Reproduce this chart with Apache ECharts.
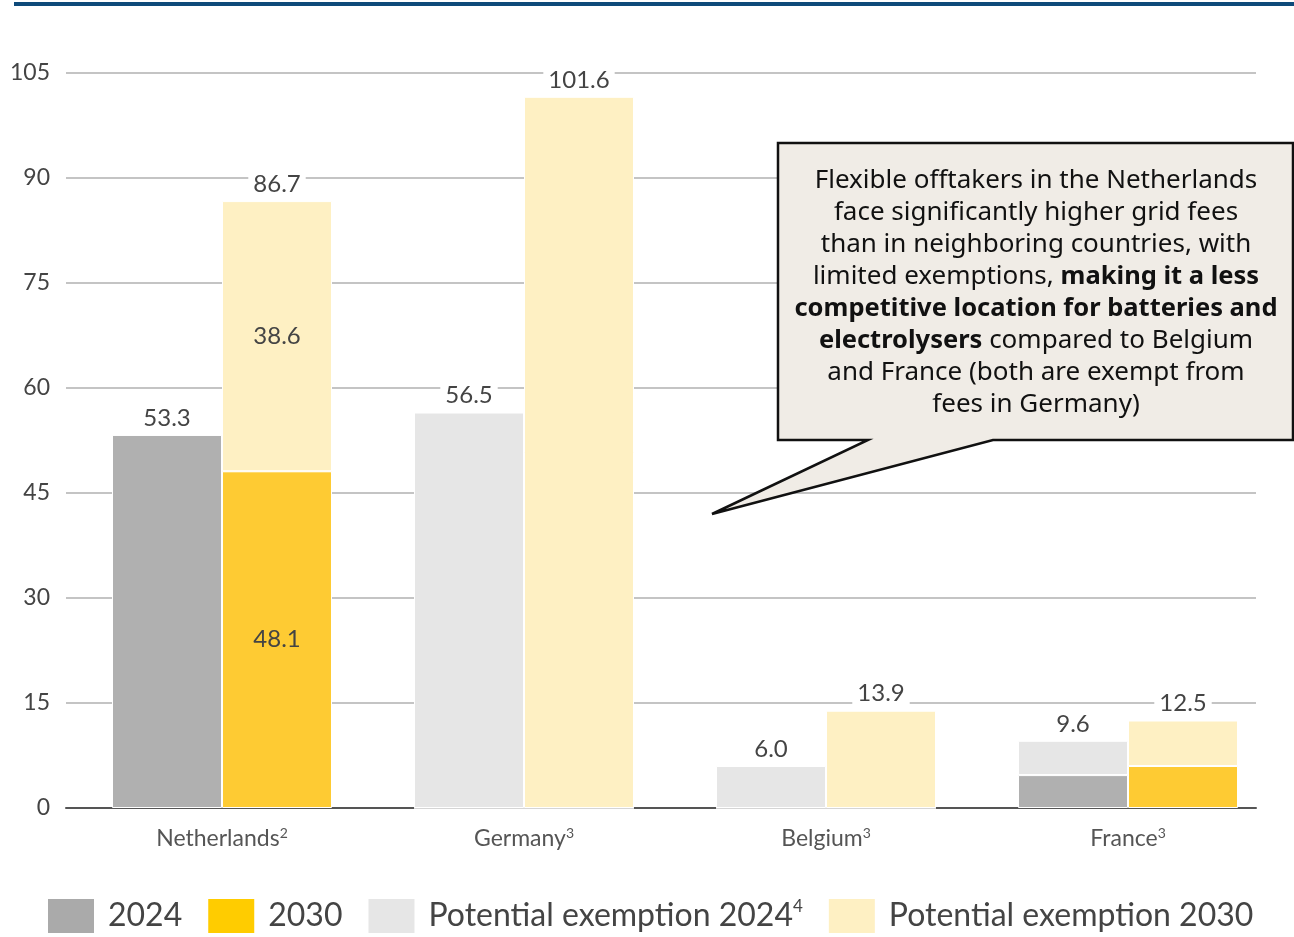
<!DOCTYPE html>
<html>
<head>
<meta charset="utf-8">
<script src="https://cdn.jsdelivr.net/npm/echarts@6/dist/echarts.min.js"></script>
<style>
html,body{margin:0;padding:0;background:#fff;}
#chart{width:1294px;height:937px;}
</style>
</head>
<body>
<div id="chart"></div>
<script>
const categories = ['Netherlands', 'Germany', 'Belgium', 'France'];
const categorySups = ['2', '3', '3', '3'];
const yTicks = { min: 0, max: 105, interval: 15 };
const values2024 = [53.3, 0, 0, 4.7];
const exemption2024 = [0, 56.5, 6.0, 4.9];
const values2030 = [48.1, 0, 0, 6.0];
const exemption2030 = [38.6, 101.6, 13.9, 6.5];
const insideLabelCats = ['Netherlands'];
const legendNames = ['2024', '2030', 'Potential exemption 2024', 'Potential exemption 2030'];
const legendSups = ['', '', '4', ''];

const FONT = 'Lato, "Open Sans", sans-serif';
const NOTE_FONT = '"Noto Sans", sans-serif';
const colors = {
  c2024: '#b0b0b0', c2030: '#fecb33', e2024: '#e6e6e6', e2030: '#fef0c3',
  l2024: '#aaaaaa', l2030: '#ffcc00', le2024: '#e6e6e6', le2030: '#fef0c3'
};

const chart = echarts.init(document.getElementById('chart'), null, { renderer: 'canvas' });

const totals2024 = categories.map((_, i) => values2024[i] + exemption2024[i]);
const totals2030 = categories.map((_, i) => values2030[i] + exemption2030[i]);

const barCommon = {
  type: 'bar', xAxisIndex: 1, yAxisIndex: 1,
  barWidth: 110, barGap: '0%'
};
const insideLabel = {
  show: true, position: 'inside', fontFamily: FONT, fontSize: 24, color: '#444',
  formatter: p => insideLabelCats.indexOf(p.name) >= 0 ? p.value.toFixed(1) : ''
};
const totalLabel = (totals) => ({
  show: true, position: 'top', distance: 5, fontFamily: FONT, fontSize: 24, color: '#444',
  backgroundColor: '#fff', padding: [0, 5],
  formatter: p => totals[p.dataIndex].toFixed(1)
});

const option = {
  animation: false,
  backgroundColor: '#fff',
  grid: [
    { left: 66, right: 38, top: 73, bottom: 129 },
    { left: 71, right: 15, top: 73, bottom: 129 }
  ],
  xAxis: [
    { type: 'category', gridIndex: 0, data: categories,
      axisLine: { show: true, lineStyle: { color: '#555', width: 2 } },
      axisTick: { show: false }, axisLabel: { show: false }, splitLine: { show: false } },
    { type: 'category', gridIndex: 1, data: categories,
      axisLine: { show: false }, axisTick: { show: false },
      axisLabel: {
        margin: 18,
        formatter: (v, i) => '{n|' + v + '}{s|' + categorySups[i] + '}',
        rich: {
          n: { fontFamily: FONT, fontSize: 23, color: '#555', lineHeight: 26 },
          s: { fontFamily: FONT, fontSize: 14, color: '#555', lineHeight: 14, verticalAlign: 'top' }
        }
      } }
  ],
  yAxis: [
    { type: 'value', gridIndex: 0, min: yTicks.min, max: yTicks.max, interval: yTicks.interval,
      axisLine: { show: false }, axisTick: { show: false },
      axisLabel: { margin: 16, fontFamily: FONT, fontSize: 23, color: '#444' },
      splitLine: { show: true, lineStyle: { color: '#c4c4c4', width: 2 } } },
    { type: 'value', gridIndex: 1, min: yTicks.min, max: yTicks.max, interval: yTicks.interval, show: false,
      splitLine: { show: false } }
  ],
  legend: {
    left: 48, top: 898, padding: 0, itemWidth: 46, itemHeight: 34, itemGap: 26,
    icon: 'rect',
    data: legendNames.map((n, i) => ({
      name: n,
      itemStyle: { color: [colors.l2024, colors.l2030, colors.le2024, colors.le2030][i], borderWidth: 0 }
    })),
    formatter: name => {
      const i = legendNames.indexOf(name);
      return '{n|' + name + '}' + (legendSups[i] ? '{s|' + legendSups[i] + '}' : '');
    },
    textStyle: {
      padding: [0, 0, 0, 9],
      rich: {
        n: { fontFamily: FONT, fontSize: 32, color: '#444', lineHeight: 36 },
        s: { fontFamily: FONT, fontSize: 17, color: '#444', lineHeight: 17, verticalAlign: 'top' }
      }
    }
  },
  series: [
    Object.assign({}, barCommon, { name: '2024', stack: 'a', data: values2024,
      itemStyle: { color: colors.c2024, borderColor: '#fff', borderWidth: 1 } }),
    Object.assign({}, barCommon, { name: 'Potential exemption 2024', stack: 'a', data: exemption2024,
      itemStyle: { color: colors.e2024, borderColor: '#fff', borderWidth: 1 } }),
    Object.assign({}, barCommon, { name: 'Total 2024', stack: 'a', data: categories.map(() => 0),
      itemStyle: { color: 'rgba(0,0,0,0)', borderWidth: 0 }, label: totalLabel(totals2024), silent: true }),
    Object.assign({}, barCommon, { name: '2030', stack: 'b', data: values2030,
      itemStyle: { color: colors.c2030, borderColor: '#fff', borderWidth: 1 }, label: insideLabel }),
    Object.assign({}, barCommon, { name: 'Potential exemption 2030', stack: 'b', data: exemption2030,
      itemStyle: { color: colors.e2030, borderColor: '#fff', borderWidth: 1 }, label: insideLabel }),
    Object.assign({}, barCommon, { name: 'Total 2030', stack: 'b', data: categories.map(() => 0),
      itemStyle: { color: 'rgba(0,0,0,0)', borderWidth: 0 }, label: totalLabel(totals2030), silent: true })
  ],
  graphic: [
    { type: 'rect', left: 14, top: 2, shape: { width: 1280, height: 4 }, style: { fill: '#0e4a7a' } },
    { type: 'polygon', z: 100,
      shape: { points: [[778, 143], [1293, 143], [1293, 440], [993, 440], [712, 514], [868, 440], [778, 440]] },
      style: { fill: '#f0ece6', stroke: '#111', lineWidth: 2.5 } },
    { type: 'text', z: 101, x: 1036, y: 165,
      style: {
        text: 'Flexible offtakers in the Netherlands\nface significantly higher grid fees\nthan in neighboring countries, with\nlimited exemptions, {b|making it a less}\n{b|competitive location for batteries and}\n{b|electrolysers} compared to Belgium\nand France (both are exempt from\nfees in Germany)',
        align: 'center', verticalAlign: 'top',
        fontFamily: NOTE_FONT, fontSize: 26, lineHeight: 32, fill: '#111',
        rich: {
          b: { fontFamily: NOTE_FONT, fontSize: 25.5, fontWeight: 'bold', lineHeight: 32, fill: '#111', color: '#111' }
        }
      } }
  ]
};
chart.setOption(option);
</script>
</body>
</html>
